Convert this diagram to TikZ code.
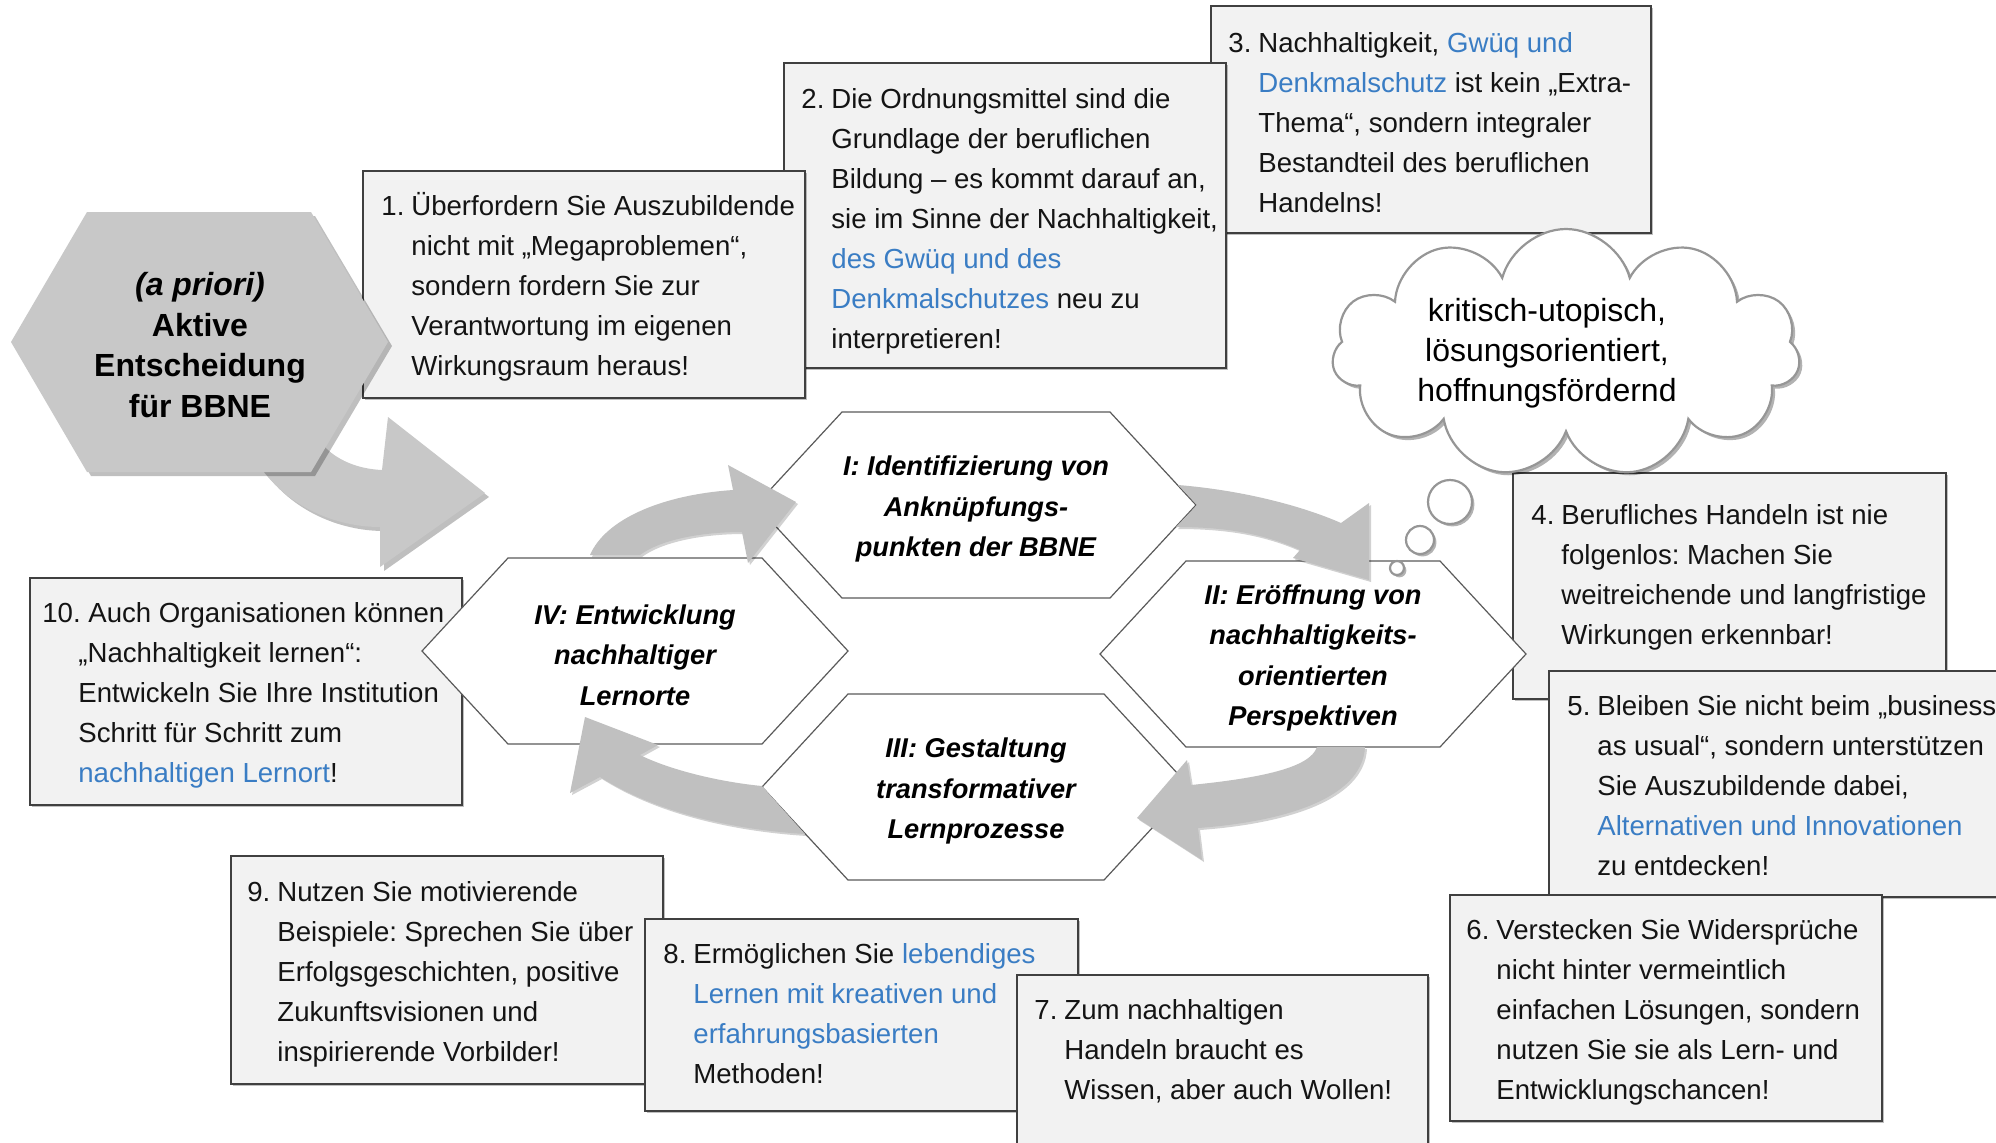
\documentclass[tikz,border=0pt]{standalone}
\usepackage{fontspec}
\setmainfont{Liberation Sans}
\usetikzlibrary{shapes.symbols,shadows}
\definecolor{tipblue}{RGB}{58,125,196}
\definecolor{boxfill}{RGB}{242,242,242}
\definecolor{boxline}{RGB}{64,64,64}
\definecolor{hexline}{RGB}{90,90,90}
\definecolor{arrowgray}{RGB}{192,192,192}
\definecolor{bighexgray}{RGB}{200,200,200}
\definecolor{cloudline}{RGB}{150,150,150}
\frenchspacing
\newlength\boxind
\setlength\boxind{15pt}
\newcommand\nr[1]{\makebox[\boxind][l]{#1}}
\newcommand\ii{\hspace*{\boxind}}
\newcommand\bl[1]{\textcolor{tipblue}{#1}}
\newcommand\strt{\rule{0pt}{14pt}}
% name x1 y1 x2 y2 xpad baseline-offset text
\newcommand\tipbox[8]{%
  \pgfmathsetlengthmacro\tbw{(#4-#2)*0.5}%
  \pgfmathsetlengthmacro\tbh{(#5-#3)*0.5}%
  \node[tbox, minimum width=\tbw, minimum height=\tbh, anchor=north west] (#1) at (#2,#3) {};
  \node[tboxtext, anchor=north west] (#1t) at (#2+#6,#3+#7-28) {\strt#8};
}
% name cx cy half-width text
\newcommand\hexa[5]{%
  \draw[hexl] (#2-#4,#3) -- (#2-#4+86,#3-93) -- (#2+#4-86,#3-93) -- (#2+#4,#3)
     -- (#2+#4-86,#3+93) -- (#2-#4+86,#3+93) -- cycle;
  \node[hext] (#1) at (#2,#3+4) {#5};
}
\begin{document}
\begin{tikzpicture}[x=0.5pt,y=-0.5pt,
  tbox/.style={draw=boxline, line width=0.7pt, fill=boxfill, inner sep=0pt, outer sep=0pt,
    drop shadow={shadow xshift=1.2pt, shadow yshift=-1.2pt, fill=black, opacity=0.25}},
  tboxtext/.style={inner sep=0pt, align=left, font=\fontsize{13.8}{20}\selectfont, text=black!92},
  hexl/.style={draw=hexline, line width=0.6pt, fill=white},
  hext/.style={inner sep=0pt, align=center, font=\fontsize{13.6}{20.3}\selectfont\bfseries\itshape},
  cyc/.style={fill=arrowgray, drop shadow={shadow xshift=1pt, shadow yshift=-1pt, fill=black, opacity=0.18}},
  bigshape/.style={fill=bighexgray, drop shadow={shadow xshift=2pt, shadow yshift=-2pt, fill=black, opacity=0.25}},
  bubble/.style={circle, draw=cloudline, line width=1.1pt, fill=white, inner sep=0pt,
    drop shadow={shadow xshift=1.2pt, shadow yshift=-1.2pt, fill=black, opacity=0.3}}
]
\fill[white] (0,0) rectangle (1996,1142);
\useasboundingbox (0,0) rectangle (1996,1142);

% big arrow from the decision hexagon
\fill[bigshape] (240,420) .. controls (255,490) and (320,527) .. (380,527) -- (380,567) -- (485,493)
   -- (388,417) -- (382,470) .. controls (340,468) and (315,445) .. (305,415) -- cycle;

% top boxes
\tipbox{b3}{1211}{6}{1651}{233}{17}{46}{\nr{3.}Nachhaltigkeit, \bl{Gwüq und}\\
\ii\bl{Denkmalschutz} ist kein „Extra-\\
\ii Thema“, sondern integraler\\
\ii Bestandteil des beruflichen\\
\ii Handelns!}
\tipbox{b2}{784}{63}{1226}{368}{17}{45}{\nr{2.}Die Ordnungsmittel sind die\\
\ii Grundlage der beruflichen\\
\ii Bildung – es kommt darauf an,\\
\ii sie im Sinne der Nachhaltigkeit,\\
\ii\bl{des Gwüq und des}\\
\ii\bl{Denkmalschutzes} neu zu\\
\ii interpretieren!}
\tipbox{b1}{363}{171}{805}{398}{18}{44}{\nr{1.}Überfordern Sie Auszubildende\\
\ii nicht mit „Megaproblemen“,\\
\ii sondern fordern Sie zur\\
\ii Verantwortung im eigenen\\
\ii Wirkungsraum heraus!}

% decision hexagon
\fill[bigshape] (11,342) -- (87,212) -- (311,212) -- (388,342) -- (311,472) -- (87,472) -- cycle;
\node[align=center, inner sep=0pt, font=\fontsize{16}{20.3}\selectfont\bfseries] (bh) at (200,345)
  {\textit{(a priori)}\\Aktive\\Entscheidung\\für BBNE};

% remaining boxes
\setlength\boxind{18pt}
\tipbox{b10}{30}{578}{462}{805}{12}{44}{10. Auch Organisationen können\\
\ii„Nachhaltigkeit lernen“:\\
\ii Entwickeln Sie Ihre Institution\\
\ii Schritt für Schritt zum\\
\ii\bl{nachhaltigen Lernort}!}
\setlength\boxind{15pt}
\tipbox{b4}{1513}{473}{1946}{699}{18}{51}{\nr{4.}Berufliches Handeln ist nie\\
\ii folgenlos: Machen Sie\\
\ii weitreichende und langfristige\\
\ii Wirkungen erkennbar!}
\tipbox{b5}{1549}{671}{2010}{897}{18}{44}{\nr{5.}Bleiben Sie nicht beim „business\\
\ii as usual“, sondern unterstützen\\
\ii Sie Auszubildende dabei,\\
\ii\bl{Alternativen und Innovationen}\\
\ii zu entdecken!}
\tipbox{b6}{1450}{895}{1882}{1121}{16}{44}{\nr{6.}Verstecken Sie Widersprüche\\
\ii nicht hinter vermeintlich\\
\ii einfachen Lösungen, sondern\\
\ii nutzen Sie sie als Lern- und\\
\ii Entwicklungschancen!}
\tipbox{b9}{231}{856}{663}{1084}{16}{45}{\nr{9.}Nutzen Sie motivierende\\
\ii Beispiele: Sprechen Sie über\\
\ii Erfolgsgeschichten, positive\\
\ii Zukunftsvisionen und\\
\ii inspirierende Vorbilder!}
\tipbox{b8}{645}{919}{1078}{1111}{18}{44}{\nr{8.}Ermöglichen Sie \bl{lebendiges}\\
\ii\bl{Lernen mit kreativen und}\\
\ii\bl{erfahrungsbasierten}\\
\ii Methoden!}
\tipbox{b7}{1017}{975}{1428}{1150}{17}{44}{\nr{7.}Zum nachhaltigen\\
\ii Handeln braucht es\\
\ii Wissen, aber auch Wollen!}

% cycle hexagons
\hexa{h1}{976}{505}{220}{I: Identifizierung von\\Anknüpfungs-\\punkten der BBNE}
\hexa{h2}{1313}{654}{213}{II: Eröffnung von\\nachhaltigkeits-\\orientierten\\Perspektiven}
\hexa{h3}{976}{787}{214}{III: Gestaltung\\transformativer\\Lernprozesse}
\hexa{h4}{635}{651}{213}{IV: Entwicklung\\nachhaltiger\\Lernorte}

% cycle arrows
\fill[cyc] (590,555) .. controls (605,520) and (660,495) .. (733,490) -- (728,465) -- (796,502)
   -- (748,563) -- (742,532) .. controls (700,532) and (660,540) .. (640,555) -- cycle;
\fill[cyc] (1176,527) -- (1197,505) -- (1178,485) .. controls (1240,490) and (1300,505) .. (1341,523)
   -- (1369,503) -- (1369,580) -- (1293,558) -- (1300,550) .. controls (1260,532) and (1220,527) .. (1176,527) -- cycle;
\fill[cyc] (1317,747) -- (1365,747) .. controls (1362,800) and (1280,822) .. (1198,828) -- (1202,860)
   -- (1137,818) -- (1187,760) -- (1191,785) .. controls (1260,778) and (1310,768) .. (1317,747) -- cycle;
\fill[cyc] (762,786) .. controls (720,782) and (670,770) .. (640,755) -- (658,745) -- (585,717)
   -- (570,793) -- (600,777) .. controls (660,815) and (740,830) .. (805,834) -- cycle;

% thought cloud
\node[cloud, cloud puffs=11, cloud ignores aspect, minimum width=234pt, minimum height=124pt,
  draw=cloudline, line width=1.1pt, fill=white, inner sep=0pt,
  drop shadow={shadow xshift=1.5pt, shadow yshift=-1.5pt, fill=black, opacity=0.3}] (cloud) at (1566,353) {};
\node[align=center, inner sep=0pt, font=\fontsize{16}{20}\selectfont] (cloudt) at (1547,353)
  {kritisch-utopisch,\\lösungsorientiert,\\hoffnungsfördernd};
\node[bubble, minimum size=22pt] (bub1) at (1450,502) {};
\node[bubble, minimum size=14pt] (bub2) at (1420,540) {};
\node[bubble, minimum size=7pt] (bub3) at (1397,568) {};
\end{tikzpicture}
\end{document}
